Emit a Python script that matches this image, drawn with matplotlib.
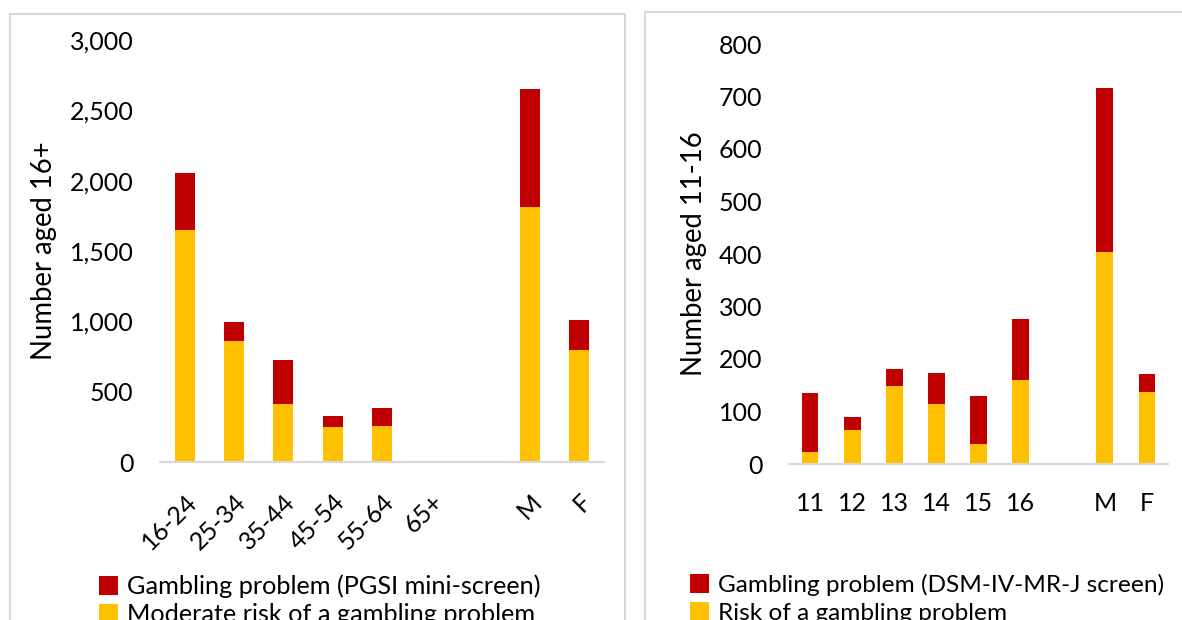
import matplotlib
matplotlib.use("Agg")
import matplotlib.pyplot as plt
from matplotlib.patches import Rectangle
import numpy as np

plt.rcParams['font.family'] = ['Lato', 'DejaVu Sans']

# adults 16+ (left panel)
adult_cats = ['16-24', '25-34', '35-44', '45-54', '55-64', '65+', '', 'M', 'F']
adult_moderate = [1650, 858, 415, 247, 257, 0, 0, 1814, 797]
adult_problem = [402, 138, 312, 77, 124, 0, 0, 838, 210]

# children 11-16 (right panel)
child_cats = ['11', '12', '13', '14', '15', '16', '', 'M', 'F']
child_risk = [22, 65, 149, 115, 39, 160, 0, 403, 138]
child_problem = [114, 25, 32, 58, 91, 117, 0, 314, 34]

red = '#C00000'
yellow = '#FFC000'
grey = '#D9D9D9'
W, H = 1182, 620

fig = plt.figure(figsize=(W / 100, H / 100), dpi=100)

# panel borders
fig.patches.append(Rectangle((10 / W, -0.05), 615 / W, 1.05 - 14 / H,
                             transform=fig.transFigure, fill=False,
                             edgecolor=grey, lw=1.5))
fig.patches.append(Rectangle((645 / W, -0.05), 560 / W, 1.05 - 12 / H,
                             transform=fig.transFigure, fill=False,
                             edgecolor=grey, lw=1.5))


def panel(rect, cats, low, high, ymax, ystep, ylabel, rot):
    ax = fig.add_axes(rect)
    x = np.arange(len(cats))
    b1 = ax.bar(x, low, width=0.4, color=yellow)
    b2 = ax.bar(x, high, width=0.4, bottom=low, color=red)
    ax.set_xlim(-0.5, len(cats) - 0.5)
    ax.set_ylim(0, ymax)
    ax.set_yticks(np.arange(0, ymax + 1, ystep))
    ax.yaxis.set_major_formatter(matplotlib.ticker.StrMethodFormatter('{x:,.0f}'))
    ax.set_xticks(x)
    for s in ['top', 'right', 'left']:
        ax.spines[s].set_visible(False)
    ax.spines['bottom'].set_color(grey)
    ax.spines['bottom'].set_linewidth(1.5)
    ax.tick_params(axis='both', length=0, labelsize=18)
    ax.tick_params(axis='y', pad=19)
    if rot:
        ax.set_xticklabels(cats, rotation=45, ha='right', rotation_mode='anchor')
    else:
        ax.set_xticklabels(cats)
    ax.tick_params(axis='x', pad=20)
    ax.set_ylabel(ylabel, fontsize=19.8)
    return ax, b1, b2


axL, l1, l2 = panel([160 / W, (H - 462) / H, 444 / W, 422 / H],
                    adult_cats, adult_moderate, adult_problem, 3000, 500,
                    'Number aged 16+', True)
axL.yaxis.set_label_coords(-0.232, 0.5)

axR, r1, r2 = panel([789 / W, (H - 464) / H, 379 / W, 420 / H],
                    child_cats, child_risk, child_problem, 800, 100,
                    'Number aged 11-16', False)
axR.yaxis.set_label_coords(-0.216, 0.5)

fig.legend([l2, l1], ['Gambling problem (PGSI mini-screen)',
                      'Moderate risk of a gambling problem'],
           loc='upper left', bbox_to_anchor=(76 / W, 1 - 552 / H),
           frameon=False, fontsize=18.2, handlelength=0.75, handleheight=0.75,
           handletextpad=0.35, labelspacing=0.2)
fig.legend([r2, r1], ['Gambling problem (DSM-IV-MR-J screen)',
                      'Risk of a gambling problem'],
           loc='upper left', bbox_to_anchor=(668 / W, 1 - 552 / H),
           frameon=False, fontsize=17.6, handlelength=0.78, handleheight=0.78,
           handletextpad=0.35, labelspacing=0.25)

fig.savefig('out.png', dpi=100)
